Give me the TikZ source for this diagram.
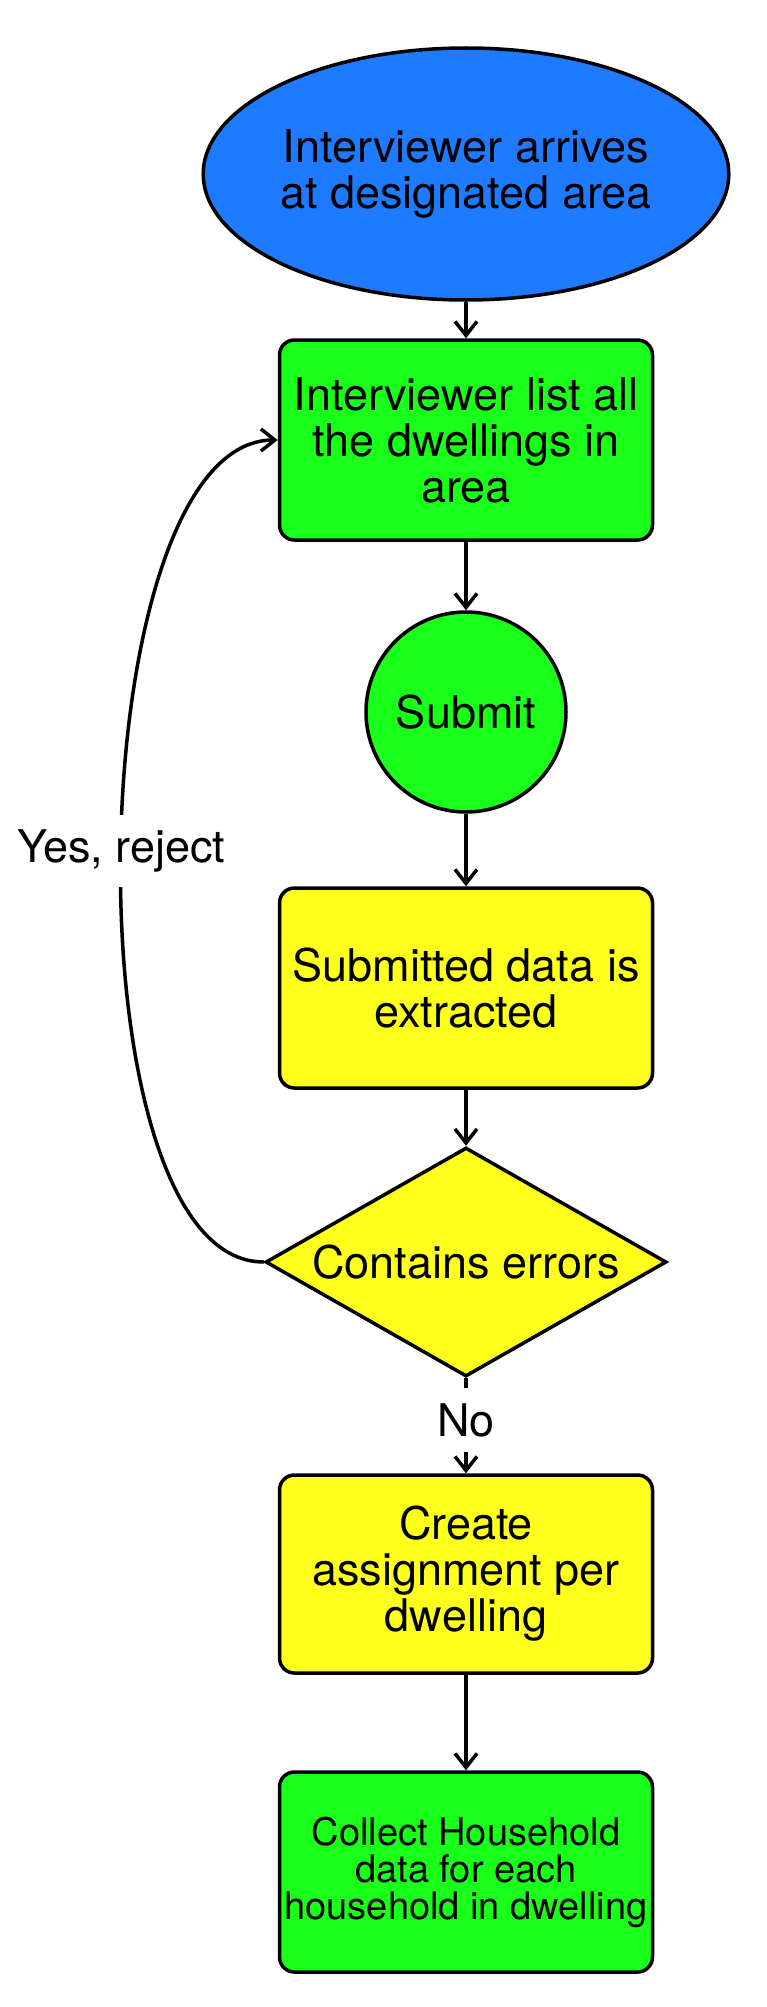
\documentclass[tikz,border=0pt]{standalone}
\usepackage{fontspec}
\setmainfont{TeX Gyre Heros}
\usetikzlibrary{arrows.meta,shapes.geometric}
\definecolor{startblue}{RGB}{30,123,255}
\definecolor{boxgreen}{RGB}{26,255,26}
\definecolor{boxyellow}{RGB}{255,255,30}
\tikzstyle{startnode}=[ellipse,draw,line width=3.5pt,fill=startblue,minimum width=445pt,minimum height=252pt,inner sep=0pt,align=center]
\tikzstyle{process}=[rectangle,rounded corners=15pt,draw,line width=3.5pt,minimum width=373pt,minimum height=200pt,inner sep=0pt,align=center]
\tikzstyle{decision}=[diamond,draw,line width=3.5pt,fill=boxyellow,aspect=1.75,minimum width=401pt,minimum height=229pt,inner sep=0pt]
\tikzstyle{flow}=[draw,line width=3.5pt,-{Straight Barb[length=14pt,width=22pt]}]
\tikzstyle{flowlabel}=[fill=white,inner xsep=4pt,inner ysep=15pt]

\begin{document}
\begin{tikzpicture}[x=1pt,y=-1pt,font=\fontsize{45pt}{46pt}\selectfont]
    \useasboundingbox (0,0) rectangle (767,2007);
    % The steps, top to bottom
    \node[startnode] (arrive) at (466,174) {Interviewer arrives\\at designated area};
    \node[process,fill=boxgreen] (listing) at (466,440) {Interviewer list all\\the dwellings in\\area};
    \node[circle,draw,line width=3.5pt,fill=boxgreen,minimum size=200pt,inner sep=0pt] (submit) at (466,712) {Submit};
    \node[process,fill=boxyellow] (extract) at (466,988) {Submitted data is\\extracted};
    \node[decision] (check) at (466,1262) {Contains errors};
    \node[process,fill=boxyellow,minimum height=198pt] (assign) at (466,1574) {Create\\assignment per\\dwelling};
    \node[process,fill=boxgreen,font=\fontsize{38pt}{37pt}\selectfont] (collect) at (466,1872) {Collect Household\\data for each\\household in dwelling};
    % Straight connections
    \foreach \source/\dest in {arrive/listing, listing/submit, submit/extract, extract/check, assign/collect}
        \path[flow] (\source) -- (\dest);
    % Decision outcomes
    \path[flow] (check) -- node[flowlabel,pos=0.44] {No} (assign);
    \path[flow] (check.west) to[out=180,in=180,looseness=0.62] node[flowlabel,pos=0.5] {Yes, reject} (listing.west);
\end{tikzpicture}
\end{document}
